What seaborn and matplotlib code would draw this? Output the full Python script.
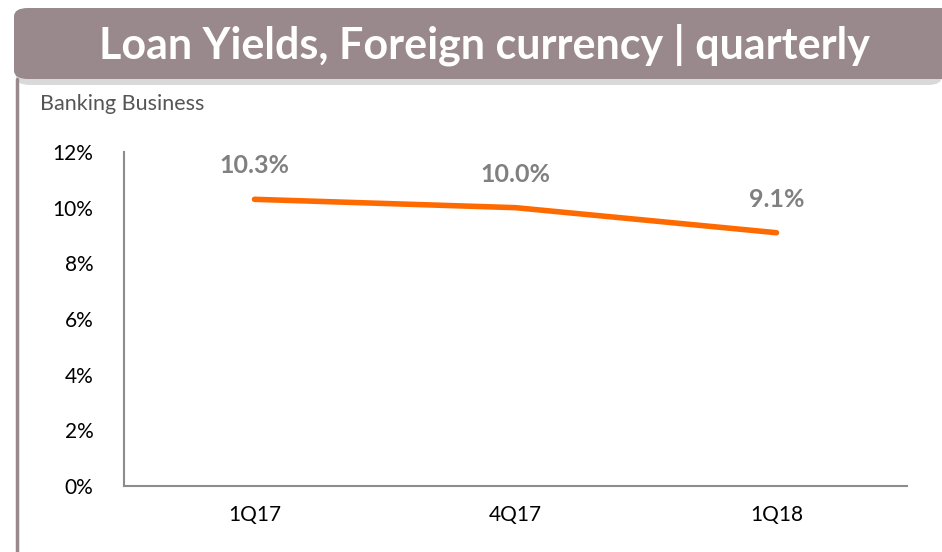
import pandas as pd
import matplotlib.pyplot as plt
import seaborn as sns
from matplotlib.patches import FancyBboxPatch
from matplotlib.lines import Line2D

# Data
quarters = ["1Q17", "4Q17", "1Q18"]
yields = [10.3, 10.0, 9.1]
labels = ["10.3%", "10.0%", "9.1%"]
y_ticks = [0, 2, 4, 6, 8, 10, 12]

df = pd.DataFrame({"quarter": quarters, "yield": yields})
df["pos"] = range(len(quarters))

sns.set_style("white")
plt.rcParams['font.family'] = ['Lato', 'DejaVu Sans']

fig = plt.figure(figsize=(9.42, 5.52), dpi=100)
W, H = 942, 552

# Banner with shadow
shadow = FancyBboxPatch((16 / W, (H - 85) / H), (W - 16) / W, 75 / H,
                        boxstyle="round,pad=0,rounding_size=0.015",
                        transform=fig.transFigure, facecolor="#555555", alpha=0.22,
                        edgecolor="none", zorder=0)
fig.patches.append(shadow)
banner = FancyBboxPatch((14 / W, (H - 79) / H), (W - 14) / W + 0.02, 71 / H,
                        boxstyle="round,pad=0,rounding_size=0.015",
                        transform=fig.transFigure, facecolor="#9a898c",
                        edgecolor="none", zorder=1)
fig.patches.append(banner)
fig.text(484 / W, 1 - 45 / H, "Loan Yields, Foreign currency | quarterly",
         ha="center", va="center", color="white", fontsize=31, fontweight="bold")

# Left border line
fig.lines.append(Line2D([17 / W, 17 / W], [0, (H - 79) / H], transform=fig.transFigure,
                        color="#9a898c", lw=2.5))

fig.text(40 / W, 1 - 104 / H, "Banking Business", ha="left", va="center",
         color="#555555", fontsize=15.5)

ax = fig.add_axes([124 / W, 1 - 486 / H, (907 - 124) / W, (486 - 152) / H])
sns.lineplot(data=df, x="pos", y="yield", ax=ax, color="#ff6a00", lw=4,
             solid_capstyle="round")

for p, v, t in zip(df["pos"], yields, labels):
    ax.annotate(t, (p, v), xytext=(0, 24), textcoords="offset points",
                ha="center", va="center", color="#808080", fontsize=18, fontweight="bold")

ax.set_xlim(-0.5, 2.5)
ax.set_ylim(0, 12)
ax.set_xticks(range(len(quarters)))
ax.set_xticklabels(quarters)
ax.set_yticks(y_ticks)
ax.set_yticklabels([f"{t}%" for t in y_ticks])
ax.tick_params(axis="both", labelsize=15, colors="black", length=0)
ax.tick_params(axis="y", pad=22)
ax.tick_params(axis="x", pad=14)
ax.set_xlabel("")
ax.set_ylabel("")
for s in ["top", "right"]:
    ax.spines[s].set_visible(False)
for s in ["left", "bottom"]:
    ax.spines[s].set_color("#8c8c8c")
    ax.spines[s].set_linewidth(1.5)

fig.savefig("out.png", dpi=100)
